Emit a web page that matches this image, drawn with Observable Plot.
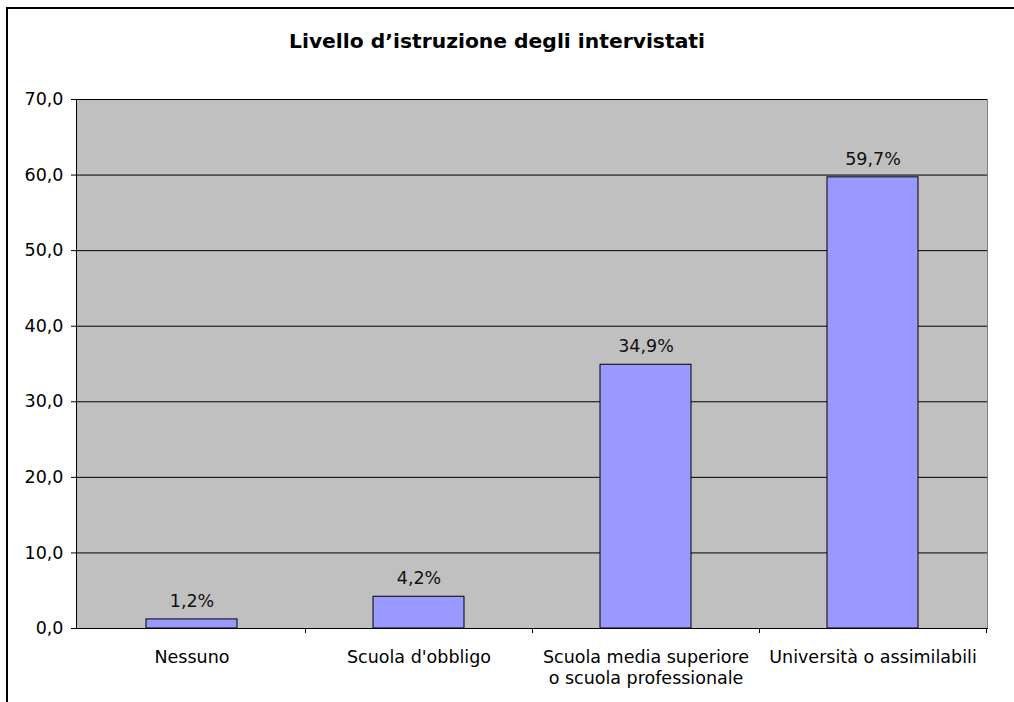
<!DOCTYPE html>
<html>
<head>
<meta charset="utf-8">
<script src="https://cdn.jsdelivr.net/npm/d3@7"></script>
<script src="https://cdn.jsdelivr.net/npm/@observablehq/plot@0.6"></script>
<style>
  html, body { margin: 0; padding: 0; background: #fff; width: 1014px; height: 702px; overflow: hidden; }
  #frame { position: absolute; left: 6px; top: 7px; width: 1100px; height: 800px; border: 2px solid #000; box-sizing: border-box; }
  #title { position: absolute; left: 0; width: 994px; top: 29px; text-align: center; font-family: "DejaVu Sans", Verdana, sans-serif; font-weight: bold; font-size: 20.3px; color: #000; }
  #chart { position: absolute; left: 0; top: 0; }
</style>
</head>
<body>
<div id="frame"></div>
<div id="title">Livello d’istruzione degli intervistati</div>
<div id="chart"></div>
<script>
const categories = ["Nessuno", "Scuola d'obbligo", "Scuola media superiore\no scuola professionale", "Università o assimilabili"];
const values = [1.2, 4.2, 34.9, 59.7];
const yTicks = [0, 10, 20, 30, 40, 50, 60, 70];

const data = categories.map((c, i) => ({category: c, value: values[i]}));
const fmt = v => v.toFixed(1).replace(".", ",");
const font = "DejaVu Sans, Verdana, sans-serif";

// category boundary ticks drawn below the x axis
function boundaryTicks(index, scales, values, dimensions) {
  const x = scales.x;
  const step = x.step ? x.step() : (dimensions.width - dimensions.marginLeft - dimensions.marginRight) / categories.length;
  const y0 = dimensions.height - dimensions.marginBottom;
  const g = d3.create("svg:g").attr("stroke", "#000").attr("stroke-width", 1);
  categories.forEach((c, i) => {
    const bx = x(c) + x.bandwidth() / 2 + step / 2;
    g.append("line").attr("x1", Math.round(bx) + 0.5).attr("x2", Math.round(bx) + 0.5).attr("y1", y0).attr("y2", y0 + 5);
  });
  return g.node();
}

const chart = Plot.plot({
  width: 1014,
  height: 702,
  marginLeft: 76,
  marginRight: 27,
  marginTop: 99,
  marginBottom: 74,
  style: {fontFamily: font, fontSize: "17.5px", color: "#000", background: "transparent", overflow: "visible"},
  x: {type: "band", domain: categories, paddingInner: 0.6, paddingOuter: 0.3, label: null},
  y: {domain: [0, 70], label: null},
  marks: [
    Plot.frame({fill: "#c0c0c0", stroke: "#808080"}),
    Plot.gridY(yTicks, {stroke: "#000", strokeOpacity: 1}),
    Plot.barY(data, {x: "category", y: "value", fill: "#9999ff", stroke: "#000", strokeWidth: 1}),
    Plot.text(data, {x: "category", y: "value", text: d => fmt(d.value) + "%", dy: -18, fill: "#111", fontSize: 17.5}),
    Plot.axisY({ticks: yTicks, tickFormat: fmt, tickSize: 5, tickPadding: 8, stroke: "#000", fontSize: 17.5, label: null}),
    Plot.axisX({tickSize: 0, tickPadding: 19, fontSize: 17.5, lineHeight: 1.22, label: null}),
    Plot.frame({anchor: "left", stroke: "#000"}),
    Plot.frame({anchor: "bottom", stroke: "#000"}),
    boundaryTicks
  ]
});
document.getElementById("chart").appendChild(chart);
</script>
</body>
</html>
